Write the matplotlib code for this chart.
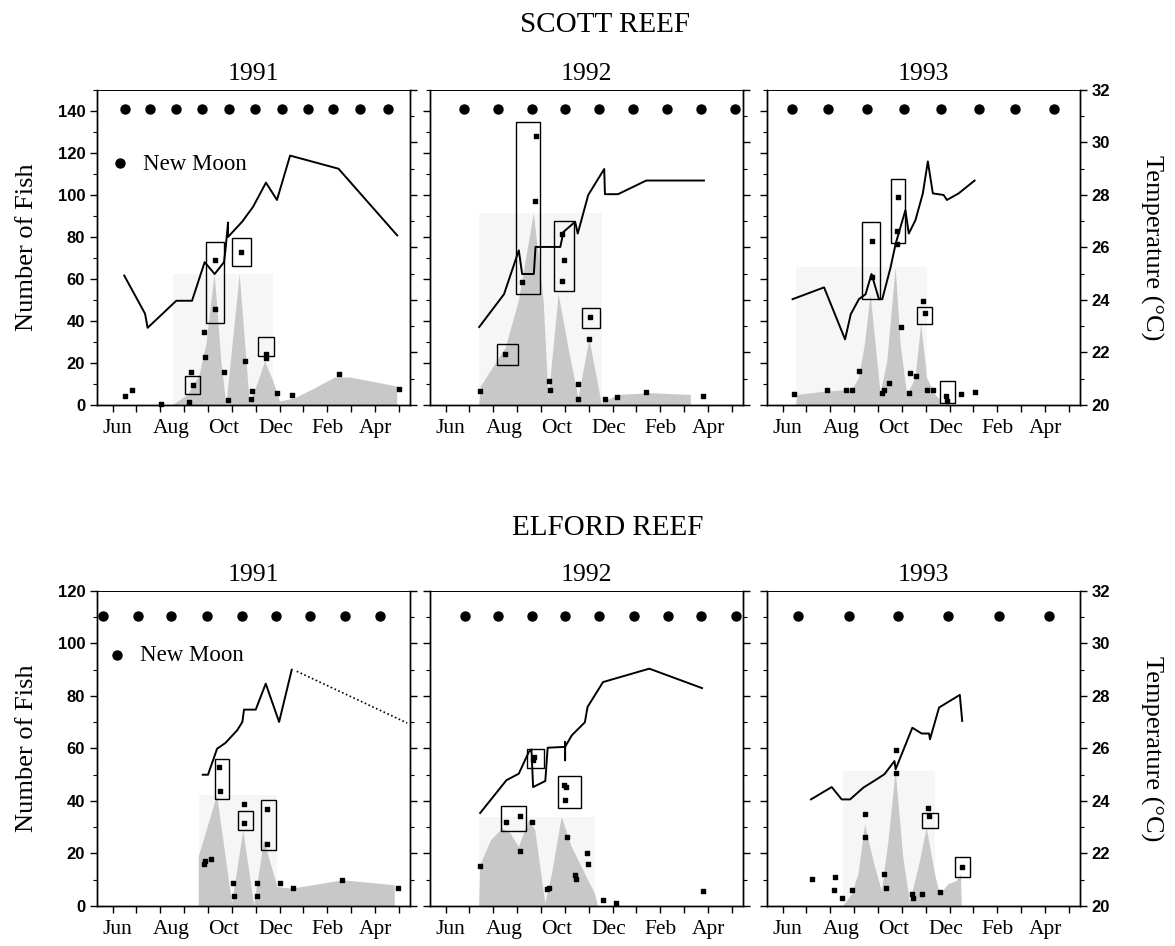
import matplotlib
matplotlib.use('Agg')
import matplotlib.pyplot as plt
from matplotlib.patches import Rectangle
from matplotlib.ticker import MultipleLocator, NullFormatter

SERIF = 'Liberation Serif'
SANS = 'Liberation Sans'

# x axis: months since 1 June
month_labels = ['Jun', 'Aug', 'Oct', 'Dec', 'Feb', 'Apr']
month_label_pos = [0.2, 2.45, 4.65, 6.85, 9.0, 11.0]

# ---------------- SCOTT REEF 1991 ----------------
s91_moon = [0.52, 1.59, 2.67, 3.76, 4.87, 5.99, 7.12, 8.18, 9.26, 10.39, 11.54]
s91_fish_x = [0.52, 0.80, 2.04, 3.19, 3.30, 3.36, 3.82, 3.87, 4.28, 4.28, 4.67, 4.84,
              5.40, 5.57, 5.85, 5.82, 6.43, 6.43, 6.91, 7.51, 9.50, 12.0]
s91_fish_y = [4.5, 7.2, 0.5, 1.6, 15.5, 9.6, 34.9, 22.7, 69.1, 45.6, 15.7, 2.4,
              72.8, 20.8, 6.7, 2.7, 24.5, 22.4, 5.6, 4.8, 14.7, 7.7]
s91_temp_x = [0.49, 1.36, 1.47, 2.67, 3.33, 3.86, 4.28, 4.67, 4.73, 4.84, 4.84,
              5.43, 5.89, 6.43, 6.89, 7.44, 9.47, 11.93]
s91_temp_y = [24.93, 23.48, 22.94, 23.97, 23.97, 25.44, 24.99, 25.44, 25.89, 26.95, 26.40,
              26.98, 27.55, 28.47, 27.81, 29.50, 29.00, 26.46]
s91_poly_x = [2.53, 3.16, 3.65, 3.93, 4.28, 4.56, 4.77, 5.33, 5.75, 6.11, 6.39, 6.74,
              7.02, 7.65, 8.49, 9.33, 9.96, 11.93, 11.93]
s91_poly_y = [0, 4.8, 14.4, 28.8, 62.4, 20.8, 0, 62.4, 0.8, 11.2, 20.8, 11.2,
              1.6, 3.2, 8.0, 13.1, 13.1, 8.8, 0]
s91_boxes = [(3.02, 3.66, 5.3, 13.6), (3.93, 4.66, 39.2, 77.6),
             (5.02, 5.80, 66.4, 79.5), (6.11, 6.78, 23.5, 32.3)]

# ---------------- SCOTT REEF 1992 ----------------
s92_moon = [0.79, 2.20, 3.63, 5.01, 6.44, 7.85, 9.28, 10.69, 12.15]
s92_fish_x = [1.44, 2.49, 3.21, 3.74, 3.80, 4.32, 4.36, 4.88, 4.95, 4.88, 5.54, 5.54,
              6.05, 6.03, 6.70, 7.20, 8.42, 10.79]
s92_fish_y = [6.7, 24.3, 58.4, 97.1, 128.3, 11.2, 7.2, 81.6, 68.8, 58.9, 10.1, 2.9,
              41.9, 31.5, 2.7, 4.0, 6.4, 4.3]
s92_temp_x = [1.41, 2.45, 3.07, 3.21, 3.70, 3.77, 4.81, 4.94, 5.43, 5.54, 5.98, 6.65,
              6.68, 7.23, 8.41, 9.65, 10.83]
s92_temp_y = [22.97, 24.22, 25.89, 24.99, 24.99, 26.02, 26.02, 26.59, 26.98, 26.53, 28.0,
              28.99, 28.03, 28.03, 28.55, 28.55, 28.55]
s92_poly_x = [1.41, 1.48, 2.52, 3.07, 3.70, 4.11, 4.32, 4.74, 5.15, 5.57, 6.03, 6.54,
              7.23, 8.61, 10.28, 10.28]
s92_poly_y = [0, 8.8, 27.2, 49.6, 91.2, 49.6, 3.2, 52.8, 27.2, 3.2, 31.5, 0.8,
              4.8, 5.6, 4.8, 0]
s92_boxes = [(2.94, 3.97, 52.8, 134.9), (4.53, 5.40, 54.4, 87.5),
             (2.17, 3.03, 19.2, 29.1), (5.73, 6.47, 36.8, 46.4)]

# ---------------- SCOTT REEF 1993 ----------------
s93_moon = [0.38, 1.92, 3.52, 5.08, 6.64, 8.22, 9.75, 11.39]
s93_fish_x = [0.49, 1.85, 2.67, 2.90, 3.20, 3.73, 3.73, 4.18, 4.25, 4.46, 4.85, 4.78,
              4.78, 4.97, 5.32, 5.36, 5.60, 5.88, 5.95, 6.06, 6.30, 6.85, 6.89, 7.48, 8.08]
s93_fish_y = [5.3, 7.2, 7.2, 7.2, 16.3, 77.9, 61.1, 5.6, 7.2, 10.4, 98.9, 82.9,
              76.5, 37.3, 5.9, 15.2, 13.6, 49.6, 44.0, 7.2, 7.2, 4.3, 1.9, 5.1, 6.4]
s93_temp_x = [0.42, 1.74, 2.62, 2.86, 3.20, 3.48, 3.73, 4.04, 4.18, 4.53, 4.74, 5.15,
              5.29, 5.57, 5.88, 6.09, 6.30, 6.75, 6.89, 7.38, 8.05]
s93_temp_y = [24.03, 24.48, 22.50, 23.46, 24.03, 24.22, 24.99, 24.03, 24.03, 25.25, 26.14,
              27.42, 26.53, 27.04, 28.06, 29.28, 28.06, 28.0, 27.81, 28.06, 28.55]
s93_poly_x = [0.56, 0.63, 1.81, 2.92, 3.20, 3.45, 3.69, 3.90, 4.11, 4.39, 4.74, 4.95,
              5.22, 5.57, 5.81, 6.06, 6.41, 6.62, 6.62]
s93_poly_y = [0, 4.8, 6.4, 7.2, 12.8, 28.8, 52.8, 28.8, 5.6, 20.8, 65.6, 28.8,
              4.8, 12.8, 38.4, 12.8, 4.8, 2.4, 0]
s93_boxes = [(3.31, 4.08, 50.4, 87.2), (4.53, 5.15, 77.1, 107.7),
             (5.64, 6.27, 38.4, 46.7), (6.62, 7.24, 0.8, 11.2)]

# ---------------- ELFORD REEF 1991 ----------------
e91_moon = [-0.39, 1.08, 2.46, 3.96, 5.41, 6.84, 8.27, 9.75, 11.19]
e91_fish_x = [3.85, 3.89, 4.13, 4.45, 4.49, 5.06, 5.10, 5.51, 5.51, 6.04, 6.04, 6.46,
              6.49, 7.00, 7.57, 9.61, 11.97]
e91_fish_y = [15.9, 17.1, 18.0, 53.0, 43.8, 8.9, 3.8, 39.0, 31.7, 8.9, 3.8, 37.1,
              23.7, 8.9, 6.9, 10.0, 7.0]
e91_temp_x = [3.78, 4.00, 4.38, 4.73, 5.22, 5.44, 5.51, 6.00, 6.42, 6.98, 7.51]
e91_temp_y = [25.0, 25.0, 25.99, 26.21, 26.69, 27.01, 27.48, 27.48, 28.47, 27.01, 29.0]
e91_temp_dot_x = [7.72, 12.35]
e91_temp_dot_y = [28.94, 26.97]
e91_poly_x = [3.61, 3.61, 4.38, 5.01, 5.48, 5.93, 6.35, 6.91, 7.54, 9.65, 11.83, 11.83]
e91_poly_y = [0, 18.7, 42.2, 0.9, 28.8, 0.3, 25.0, 7.2, 6.6, 9.8, 7.9, 0]
e91_boxes = [(4.31, 4.87, 40.9, 56.1), (5.25, 5.90, 28.8, 36.2), (6.24, 6.87, 21.2, 40.5)]

# ---------------- ELFORD REEF 1992 ----------------
e92_moon = [0.83, 2.20, 3.63, 5.01, 6.44, 7.89, 9.33, 10.69, 12.17]
e92_fish_x = [1.45, 2.55, 3.14, 3.10, 3.63, 3.70, 3.67, 4.25, 4.32, 4.97, 5.06, 5.01,
              5.08, 5.43, 5.47, 5.91, 5.98, 6.60, 7.16, 10.78]
e92_fish_y = [15.1, 32.0, 34.2, 21.0, 32.0, 56.8, 55.5, 6.3, 6.9, 46.2, 45.3, 40.3,
              26.3, 11.9, 10.4, 20.2, 16.1, 2.2, 1.3, 5.6]
e92_temp_x = [1.45, 2.55, 3.07, 3.49, 3.60, 3.67, 4.18, 4.28, 5.01, 5.01, 5.01, 5.01,
              5.29, 5.84, 5.95, 6.60, 8.54, 10.75]
e92_temp_y = [23.54, 24.79, 25.04, 25.87, 25.96, 24.53, 24.76, 26.03, 26.06, 25.55, 26.25, 26.06,
              26.5, 27.0, 27.58, 28.53, 29.04, 28.30]
e92_poly_x = [1.41, 1.45, 1.90, 2.38, 2.73, 3.07, 3.49, 3.76, 3.97, 4.18, 4.46, 4.87,
              5.29, 5.84, 6.26, 6.39]
e92_poly_y = [0, 15.5, 25.0, 29.5, 27.6, 22.5, 32.6, 28.8, 14.9, 0.9, 12.3, 33.9,
              22.5, 12.3, 4.7, 0]
e92_boxes = [(2.31, 3.39, 28.4, 38.1), (3.42, 4.11, 52.6, 59.9), (4.73, 5.66, 37.3, 49.4)]

# ---------------- ELFORD REEF 1993 ----------------
e93_moon = [0.64, 2.79, 4.85, 6.92, 9.07, 11.16]
e93_fish_x = [1.23, 2.18, 2.15, 2.51, 2.93, 3.46, 3.46, 4.27, 4.32, 4.76, 4.76, 5.44,
              5.48, 5.83, 6.11, 6.15, 6.62, 7.53]
e93_fish_y = [10.2, 11.2, 6.1, 3.2, 6.1, 35.2, 26.3, 12.1, 7.0, 59.3, 50.5, 4.4,
              3.2, 4.4, 37.2, 34.3, 5.3, 14.9]
e93_temp_x = [1.19, 2.06, 2.48, 2.83, 3.39, 3.95, 4.27, 4.69, 4.74, 5.44, 5.83, 6.14,
              6.18, 6.56, 7.43, 7.53]
e93_temp_y = [24.06, 24.53, 24.06, 24.06, 24.51, 24.83, 25.02, 25.52, 25.21, 26.79, 26.57, 26.57,
              26.35, 27.56, 28.04, 27.05]
e93_poly_x = [2.55, 2.90, 3.18, 3.46, 3.81, 4.16, 4.44, 4.74, 5.06, 5.34, 5.76, 6.04,
              6.39, 6.60, 6.95, 7.29, 7.48, 7.51]
e93_poly_y = [0, 4.4, 12.1, 31.1, 17.1, 5.7, 24.8, 51.4, 18.4, 1.3, 17.1, 29.8,
              12.1, 4.4, 8.3, 9.5, 12.1, 0]
e93_boxes = [(5.83, 6.50, 29.6, 35.6), (7.22, 7.85, 11.0, 18.7)]


def style_numbers(labels):
    for lab in labels:
        lab.set_fontfamily(SANS)
        lab.set_fontweight('bold')
        lab.set_fontsize(12)


def pale_extent(poly_x, poly_y):
    # the pasted shading image ends shortly after its last tall peak
    top = max(poly_y)
    last = max(i for i, v in enumerate(poly_y) if v > 0.25 * top)
    end = poly_x[min(last + 1, len(poly_x) - 1)]
    return poly_x[0], end, top


def draw_panel(ax, moon, moon_y, fish_x, fish_y, temp_x, temp_y, poly_x, poly_y, boxes,
               fish_max, col, dot_x=None, dot_y=None):
    x0, x1, top = pale_extent(poly_x, poly_y)
    ax.add_patch(Rectangle((x0, 0), x1 - x0, top,
                           facecolor='#f6f6f6', edgecolor='none', zorder=0))
    ax.fill(poly_x, poly_y, color='#c8c8c8', lw=0, zorder=1)
    ax.scatter(moon, [moon_y] * len(moon), s=42, color='black', zorder=3, label='New Moon',
               clip_on=False)
    ax.scatter(fish_x, fish_y, s=11, marker='s', color='black', zorder=3, clip_on=False)
    for bx0, bx1, by0, by1 in boxes:
        ax.add_patch(Rectangle((bx0, by0), bx1 - bx0, by1 - by0, fill=False,
                               edgecolor='black', lw=1.0, zorder=4))
    ax.set_xlim(-0.65, 12.45)
    ax.set_ylim(0, fish_max)
    ax.xaxis.remove_overlapping_locs = False
    ax.set_xticks(range(13))
    ax.xaxis.set_major_formatter(NullFormatter())
    ax.set_xticks(month_label_pos, minor=True)
    ax.set_xticklabels(month_labels, minor=True, fontfamily=SERIF, fontsize=15.5)
    ax.tick_params(axis='x', which='major', direction='out', length=5, width=1)
    ax.tick_params(axis='x', which='minor', length=0, pad=10)
    ax.yaxis.set_major_locator(MultipleLocator(20))
    ax.yaxis.set_minor_locator(MultipleLocator(10))
    ax.tick_params(axis='y', which='major', direction='out', length=5, width=1)
    ax.tick_params(axis='y', which='minor', direction='out', length=3, width=0.8)
    if col == 0:
        style_numbers(ax.get_yticklabels())
        ax.set_ylabel('Number of Fish', fontfamily=SERIF, fontsize=19, labelpad=14)
    else:
        ax.yaxis.set_major_formatter(NullFormatter())
    for sp in ax.spines.values():
        sp.set_linewidth(1.0)
    ax.spines['top'].set_linewidth(0.6)

    ax2 = ax.twinx()
    ax2.plot(temp_x, temp_y, color='black', lw=1.4, zorder=5)
    if dot_x is not None:
        ax2.plot(dot_x, dot_y, color='black', lw=1.2, ls=(0, (1, 1.5)))
    ax2.set_ylim(20, 32)
    ax2.yaxis.set_major_locator(MultipleLocator(2))
    ax2.yaxis.set_minor_locator(MultipleLocator(1))
    ax2.tick_params(axis='y', which='major', direction='out', length=5, width=1)
    ax2.tick_params(axis='y', which='minor', direction='out', length=3, width=0.8)
    if col == 2:
        style_numbers(ax2.get_yticklabels())
        ax2.set_ylabel('Temperature (°C)', fontfamily=SERIF, fontsize=19,
                       rotation=270, labelpad=38)
    else:
        ax2.yaxis.set_major_formatter(NullFormatter())
    for sp in ax2.spines.values():
        sp.set_linewidth(1.0)
    ax2.spines['top'].set_linewidth(0.6)
    return ax2


fig = plt.figure(figsize=(11.75, 9.46), dpi=100)

lefts = [0.0826, 0.366, 0.6528]
width = 0.266
top_bottom, bottom_bottom, height = 0.5719, 0.0423, 0.333

scott = [
    (s91_moon, s91_fish_x, s91_fish_y, s91_temp_x, s91_temp_y, s91_poly_x, s91_poly_y, s91_boxes),
    (s92_moon, s92_fish_x, s92_fish_y, s92_temp_x, s92_temp_y, s92_poly_x, s92_poly_y, s92_boxes),
    (s93_moon, s93_fish_x, s93_fish_y, s93_temp_x, s93_temp_y, s93_poly_x, s93_poly_y, s93_boxes),
]
elford = [
    (e91_moon, e91_fish_x, e91_fish_y, e91_temp_x, e91_temp_y, e91_poly_x, e91_poly_y, e91_boxes),
    (e92_moon, e92_fish_x, e92_fish_y, e92_temp_x, e92_temp_y, e92_poly_x, e92_poly_y, e92_boxes),
    (e93_moon, e93_fish_x, e93_fish_y, e93_temp_x, e93_temp_y, e93_poly_x, e93_poly_y, e93_boxes),
]
years = ['1991', '1992', '1993']
legend_kw = dict(loc='center left', frameon=False, prop={'family': SERIF, 'size': 16.5},
                 handlelength=1.0, handletextpad=0.5, borderpad=0, borderaxespad=0)

for i, d in enumerate(scott):
    ax = fig.add_axes([lefts[i], top_bottom, width, height])
    draw_panel(ax, d[0], 141, *d[1:], fish_max=150, col=i)
    ax.set_title(years[i], fontfamily=SERIF, fontsize=18.5, pad=7)
    if i == 0:
        ax.legend(bbox_to_anchor=(0.037, 0.765), **legend_kw)

for i, d in enumerate(elford):
    ax = fig.add_axes([lefts[i], bottom_bottom, width, height])
    extra = {}
    if i == 0:
        extra = dict(dot_x=e91_temp_dot_x, dot_y=e91_temp_dot_y)
    draw_panel(ax, d[0], 110.5, *d[1:], fish_max=120, col=i, **extra)
    ax.set_title(years[i], fontfamily=SERIF, fontsize=18.5, pad=7)
    if i == 0:
        ax.legend(bbox_to_anchor=(0.027, 0.794), **legend_kw)

fig.text(0.515, 0.966, 'SCOTT REEF', ha='center', va='baseline', fontfamily=SERIF, fontsize=21)
fig.text(0.517, 0.4345, 'ELFORD REEF', ha='center', va='baseline', fontfamily=SERIF, fontsize=21)

fig.savefig('out.png', dpi=100, facecolor='white')
plt.close(fig)
